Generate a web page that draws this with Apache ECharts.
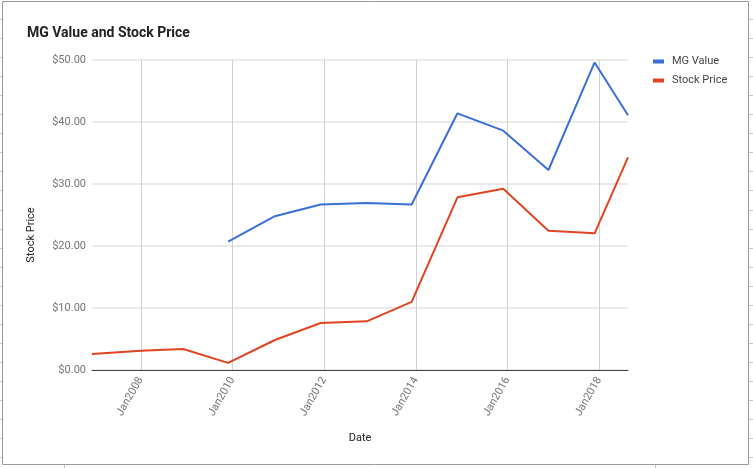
<!DOCTYPE html>
<html>
<head>
<meta charset="utf-8">
<script src="https://cdn.jsdelivr.net/npm/echarts@6/dist/echarts.min.js"></script>
<style>
html,body{margin:0;padding:0;background:#fff;}
#chart{width:753px;height:468px;}
</style>
</head>
<body>
<div id="chart"></div>
<script>
// Data
const dates = ['2006-12-08','2008-01-01','2008-12-03','2009-11-27','2010-12-04','2011-12-04','2012-12-05','2013-11-28','2014-11-28','2015-11-28','2016-11-22','2017-11-25','2018-08-18'];
const mgValue = [null, null, null, 20.7, 24.8, 26.7, 26.94, 26.7, 41.4, 38.6, 32.26, 49.6, 41.1];
const stockPrice = [2.58, 3.11, 3.39, 1.15, 4.84, 7.58, 7.85, 11.0, 27.85, 29.25, 22.47, 22.04, 34.3];
const tickYears = [2008, 2010, 2012, 2014, 2016, 2018];
const seriesNames = ['MG Value', 'Stock Price'];
const titleText = 'MG Value and Stock Price';

const chart = echarts.init(document.getElementById('chart'), null, {renderer: 'canvas'});
const ts = d => new Date(d + 'T00:00:00Z').getTime();
const tickValues = tickYears.map(y => Date.UTC(y, 0, 1));

// decorative spreadsheet cell edges outside the border
const deco = [];
for (let k = 0; k < 24; k++) {
  const y = Math.round(19 + k * 19.05) + 0.5;
  deco.push({type: 'line', shape: {x1: 749, y1: y, x2: 753, y2: y}, style: {stroke: '#c8c8c8', lineWidth: 1}, silent: true});
  deco.push({type: 'line', shape: {x1: 0, y1: y, x2: 2, y2: y}, style: {stroke: '#c8c8c8', lineWidth: 1}, silent: true});
}
[64, 655].forEach(x => deco.push({type: 'line', shape: {x1: x + 0.5, y1: 465, x2: x + 0.5, y2: 468}, style: {stroke: '#c8c8c8', lineWidth: 1}, silent: true}));

chart.setOption({
  backgroundColor: '#fff',
  animation: false,
  color: ['#3a6fd6', '#e04420'],
  textStyle: {fontFamily: 'Roboto'},
  title: {
    text: titleText,
    left: 27, top: 26, padding: 0,
    textStyle: {fontFamily: 'Roboto', fontSize: 14, fontWeight: 'bold', color: '#222'}
  },
  legend: {
    orient: 'vertical',
    left: 653, top: 56, padding: 0,
    icon: 'rect',
    itemWidth: 11, itemHeight: 4,
    itemGap: 8,
    data: seriesNames,
    textStyle: {fontFamily: 'Roboto', fontSize: 11, color: '#444', padding: [0, 0, 0, 3]}
  },
  grid: {left: 92, right: 125, top: 60, bottom: 98, containLabel: false},
  xAxis: {
    type: 'value',
    min: ts(dates[0]),
    max: ts(dates[dates.length - 1]),
    name: 'Date',
    nameLocation: 'middle',
    nameGap: 63,
    nameTextStyle: {fontFamily: 'Roboto', fontSize: 11, color: '#222'},
    axisLine: {show: true, onZero: false, lineStyle: {color: '#444', width: 1}},
    axisTick: {show: false, customValues: tickValues},
    axisLabel: {
      customValues: tickValues,
      rotate: 60,
      margin: 8,
      fontFamily: 'Roboto', fontSize: 11, color: '#757575',
      formatter: v => 'Jan' + new Date(v).getUTCFullYear()
    },
    splitLine: {show: true, lineStyle: {color: '#d0d0d0', width: 1}}
  },
  yAxis: {
    type: 'value',
    min: 0, max: 50, interval: 10,
    name: 'Stock Price',
    nameLocation: 'middle',
    nameGap: 55,
    nameTextStyle: {fontFamily: 'Roboto', fontSize: 11, color: '#222', padding: [0, 40, 0, 0]},
    axisLine: {show: false},
    axisTick: {show: false},
    axisLabel: {margin: 6, fontFamily: 'Roboto', fontSize: 11, color: '#757575', formatter: v => '$' + v.toFixed(2)},
    splitLine: {show: true, lineStyle: {color: '#e3e3e3', width: 1.5}}
  },
  series: [
    {name: seriesNames[0], type: 'line', showSymbol: false, connectNulls: false, lineStyle: {width: 2},
     data: dates.map((d, i) => [ts(d), mgValue[i]])},
    {name: seriesNames[1], type: 'line', showSymbol: false, lineStyle: {width: 2},
     data: dates.map((d, i) => [ts(d), stockPrice[i]])}
  ],
  graphic: [
    {type: 'rect', shape: {x: 2.5, y: 1.5, width: 746, height: 463}, style: {fill: 'none', stroke: '#9a9a9a', lineWidth: 1}, silent: true, z: -1}
  ].concat(deco)
});
</script>
</body>
</html>
